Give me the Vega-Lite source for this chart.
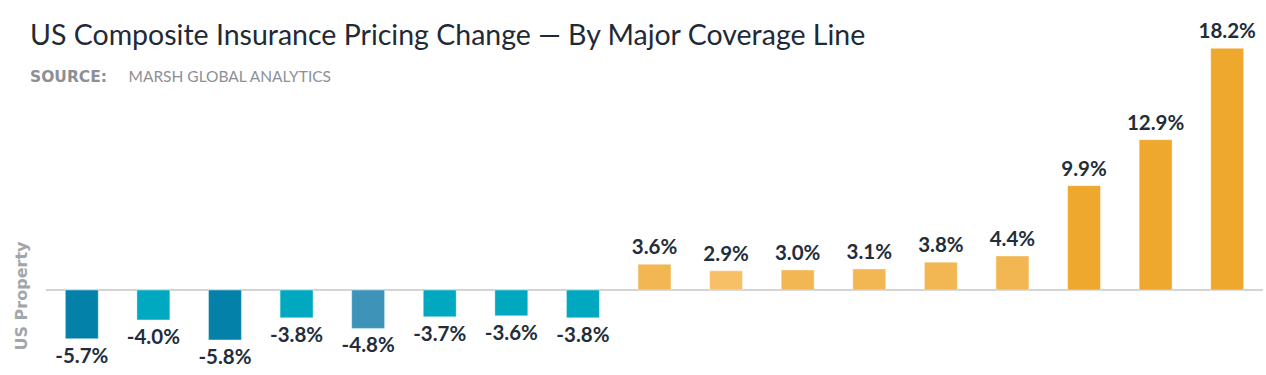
{
  "$schema": "https://vega.github.io/schema/vega-lite/v6.json",
  "width": 1217,
  "height": 310,
  "autosize": "none",
  "padding": {"left": 46, "top": 40, "right": 3, "bottom": 25},
  "background": "white",
  "title": {
    "text": "US Composite Insurance Pricing Change — By Major Coverage Line",
    "subtitle": "SOURCE:",
    "anchor": "start",
    "frame": "group",
    "dx": -16,
    "offset": -63,
    "font": "Lato",
    "fontSize": 28.5,
    "fontWeight": "normal",
    "color": "#1f2a37",
    "subtitleFont": "DejaVu Sans",
    "subtitleFontSize": 15.5,
    "subtitleFontWeight": "bold",
    "subtitleColor": "#8b9096",
    "subtitlePadding": 19
  },
  "data": {
    "values": [
      {"line": "L01", "change": -5.7, "label": "-5.7%"},
      {"line": "L02", "change": -4.0, "label": "-4.0%"},
      {"line": "L03", "change": -5.8, "label": "-5.8%"},
      {"line": "L04", "change": -3.8, "label": "-3.8%"},
      {"line": "L05", "change": -4.8, "label": "-4.8%"},
      {"line": "L06", "change": -3.7, "label": "-3.7%"},
      {"line": "L07", "change": -3.6, "label": "-3.6%"},
      {"line": "L08", "change": -3.8, "label": "-3.8%"},
      {"line": "L09", "change": 3.6, "label": "3.6%"},
      {"line": "L10", "change": 2.9, "label": "2.9%"},
      {"line": "L11", "change": 3.0, "label": "3.0%"},
      {"line": "L12", "change": 3.1, "label": "3.1%"},
      {"line": "L13", "change": 3.8, "label": "3.8%"},
      {"line": "L14", "change": 4.4, "label": "4.4%"},
      {"line": "L15", "change": 9.9, "label": "9.9%"},
      {"line": "L16", "change": 12.9, "label": "12.9%"},
      {"line": "L17", "change": 18.2, "label": "18.2%"}
    ]
  },
  "encoding": {
    "x": {
      "field": "line",
      "type": "nominal",
      "sort": null,
      "scale": {"paddingInner": 0.54, "paddingOuter": 0.27},
      "axis": {
        "orient": "top",
        "title": "MARSH GLOBAL ANALYTICS",
        "labels": false,
        "ticks": false,
        "domain": false,
        "grid": false,
        "titleX": 82,
        "titleY": 41,
        "titleAlign": "left",
        "titleBaseline": "alphabetic",
        "titleAnchor": "start",
        "titleFont": "Lato",
        "titleFontSize": 15.5,
        "titleFontWeight": "normal",
        "titleColor": "#8b9096"
      }
    },
    "y": {
      "field": "change",
      "type": "quantitative",
      "scale": {"type": "pow", "exponent": 1.38, "domain": [-6.63, 18.65], "zero": false, "nice": false},
      "axis": {
        "title": "US Property",
        "labels": false,
        "ticks": false,
        "domain": false,
        "grid": false,
        "titleAnchor": "start",
        "titlePadding": 17,
        "titleFont": "DejaVu Sans",
        "titleFontSize": 16,
        "titleFontWeight": "bold",
        "titleColor": "#a2a6aa"
      }
    }
  },
  "layer": [
    {
      "mark": {"type": "rule", "color": "#d3d3d3", "strokeWidth": 1.2},
      "encoding": {"x": null, "y": {"datum": 0, "type": "quantitative"}}
    },
    {
      "mark": {"type": "bar", "stroke": "white", "strokeOpacity": 0.4, "strokeWidth": 1},
      "encoding": {
        "y2": {"datum": 0},
        "color": {
          "field": "change",
          "type": "quantitative",
          "scale": {
            "type": "threshold",
            "domain": [-5, -4.5, 0, 2.95, 5],
            "range": ["#0381a8", "#3e94b8", "#00a8c0", "#f7c067", "#f2b752", "#efa82e"]
          },
          "legend": null
        }
      }
    },
    {
      "transform": [{"filter": "datum.change > 0"}],
      "mark": {"type": "text", "baseline": "bottom", "dy": -6, "font": "Lato", "fontSize": 20.5, "fontWeight": "bold", "color": "#232d3a"},
      "encoding": {"text": {"field": "label"}}
    },
    {
      "transform": [{"filter": "datum.change < 0"}],
      "mark": {"type": "text", "baseline": "top", "dy": 8, "font": "Lato", "fontSize": 20.5, "fontWeight": "bold", "color": "#232d3a"},
      "encoding": {"text": {"field": "label"}}
    }
  ],
  "config": {"view": {"stroke": null}}
}
